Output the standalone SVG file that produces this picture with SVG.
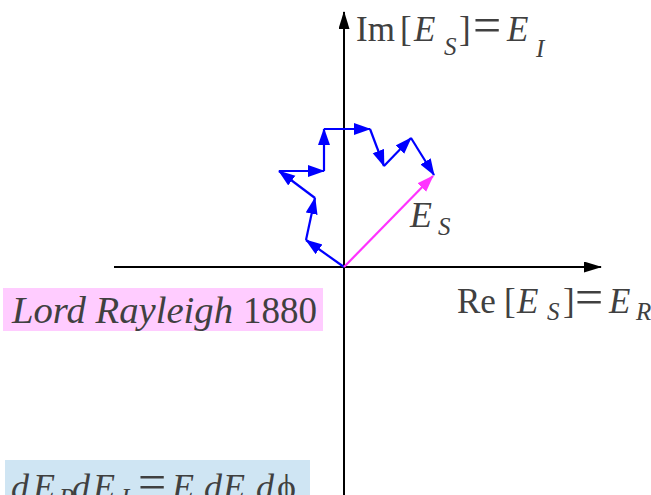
<svg xmlns="http://www.w3.org/2000/svg" width="651" height="495" viewBox="0 0 651 495">
<style>
.t{font-family:"Liberation Serif","Times New Roman",serif;fill:#404040;font-size:35px}
.i{font-style:italic}
.s{font-size:25px}
.eq{font-size:50px}
.ax{stroke:#000;stroke-width:2;fill:none}
.bv{stroke:#0000ff;stroke-width:2.2;fill:none;marker-end:url(#hb)}
.mv{stroke:#ff33ff;stroke-width:2.2;fill:none;marker-end:url(#hm)}
</style>
<defs>
<marker id="hk" markerUnits="userSpaceOnUse" markerWidth="20" markerHeight="12" refX="17" refY="5.5" orient="auto"><path d="M0,0 L18,5.5 L0,11 z" fill="#000"/></marker>
<marker id="hb" markerUnits="userSpaceOnUse" markerWidth="20" markerHeight="14" refX="16" refY="6" orient="auto"><path d="M0,0 L17,6 L0,12 z" fill="#0000ff"/></marker>
<marker id="hm" markerUnits="userSpaceOnUse" markerWidth="20" markerHeight="14" refX="16" refY="6" orient="auto"><path d="M0,0 L17,6 L0,12 z" fill="#ff33ff"/></marker>
</defs>
<rect x="3" y="288" width="320" height="43" fill="#ffccff"/>
<rect x="5" y="460" width="305" height="40" fill="#cfe5f3"/>
<g id="axes">
<line class="ax" x1="344" y1="495" x2="344" y2="12" marker-end="url(#hk)"/>
<line class="ax" x1="114" y1="267" x2="601" y2="267" marker-end="url(#hk)"/>
</g>
<g id="connectors">
<line class="bv" x1="344" y1="267" x2="306" y2="240"/>
<line class="bv" x1="306" y1="240" x2="315" y2="198"/>
<line class="bv" x1="315" y1="198" x2="279" y2="171"/>
<line class="bv" x1="279" y1="171" x2="324" y2="171"/>
<line class="bv" x1="324" y1="171" x2="324" y2="129"/>
<line class="bv" x1="324" y1="129" x2="370" y2="129"/>
<line class="bv" x1="370" y1="129" x2="384" y2="166"/>
<line class="bv" x1="384" y1="166" x2="411" y2="138"/>
<line class="bv" x1="411" y1="138" x2="434" y2="175"/>
<line class="mv" x1="344" y1="267" x2="433" y2="176"/>
</g>
<g id="label-im">
<text class="t" x="356" y="41">Im</text>
<text class="t" x="400" y="41">[</text>
<text class="t i" x="414" y="41">E</text>
<text class="t i s" x="444" y="55">S</text>
<text class="t" x="459" y="41">]</text>
<text class="t eq" x="473" y="42">=</text>
<text class="t i" x="507" y="41">E</text>
<text class="t i s" x="536" y="57">I</text>
</g>
<g id="label-re">
<text class="t" x="457" y="313">Re</text>
<text class="t" x="504" y="313">[</text>
<text class="t i" x="517" y="313">E</text>
<text class="t i s" x="547" y="320">S</text>
<text class="t" x="563" y="313">]</text>
<text class="t eq" x="575" y="314">=</text>
<text class="t i" x="609" y="313">E</text>
<text class="t i s" x="636" y="320">R</text>
</g>
<g id="label-es">
<text class="t i" x="410" y="227" style="font-size:36px">E</text>
<text class="t i s" x="438" y="235">S</text>
</g>
<g id="label-rayleigh">
<text class="t i" x="12" y="323" style="font-size:37px" textLength="221" lengthAdjust="spacingAndGlyphs">Lord Rayleigh</text>
<text class="t" x="243" y="323" style="font-size:37px">1880</text>
</g>
<g id="label-formula">
<text class="t i" x="11" y="499" style="font-size:36px">d</text>
<text class="t i" x="33" y="499" style="font-size:36px">E</text>
<text class="t i s" x="59" y="506">R</text>
<text class="t i" x="72" y="499" style="font-size:36px">d</text>
<text class="t i" x="93" y="499" style="font-size:36px">E</text>
<text class="t i s" x="121" y="506">I</text>
<text class="t eq" x="138" y="499">=</text>
<text class="t i" x="172" y="499" style="font-size:36px">E</text>
<text class="t i" x="204" y="499" style="font-size:36px">d</text>
<text class="t i" x="223" y="499" style="font-size:36px">E</text>
<text class="t i" x="256" y="499" style="font-size:36px">d</text>
<text class="t" x="277" y="499" style="font-size:36px">ϕ</text>
</g>
</svg>
